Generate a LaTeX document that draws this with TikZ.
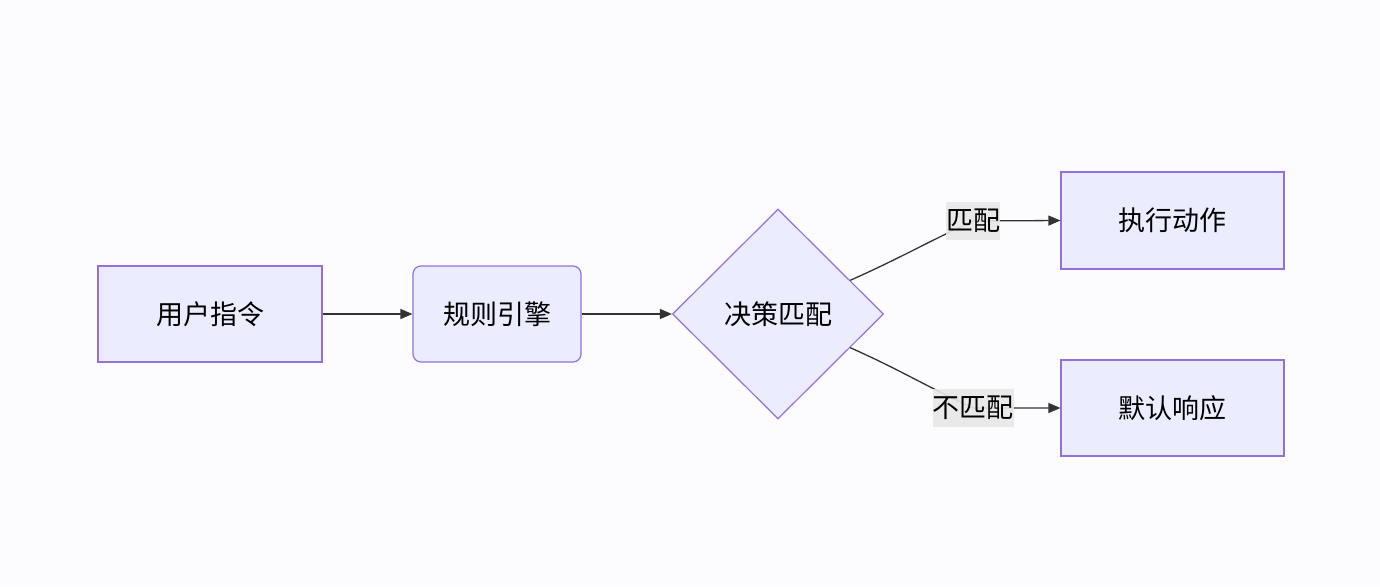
\documentclass[tikz,border=0pt]{standalone}
\usepackage{fontspec}
\newfontfamily\cjk{Noto Sans CJK SC}
\usetikzlibrary{shapes.geometric}
\usetikzlibrary{arrows.meta}
\definecolor{nodefill}{HTML}{ECECFF}
\definecolor{nodeline}{HTML}{9370DB}
\definecolor{edgeline}{HTML}{333333}
\definecolor{lblfill}{HTML}{E8E8E8}
\definecolor{bgcol}{HTML}{FCFCFE}

\tikzset{
  box/.style={draw=nodeline,fill=nodefill,line width=1.2pt,minimum width=224pt,minimum height=96pt,inner sep=0pt,font=\cjk\fontsize{27}{32}\selectfont},
  roundbox/.style={box,rounded corners=8pt,minimum width=168pt},
  decision/.style={diamond,draw=nodeline,fill=nodefill,line width=1.2pt,minimum width=211pt,minimum height=210pt,inner sep=0pt,font=\cjk\fontsize{27}{32}\selectfont},
  flow/.style={draw=edgeline,line width=1.3pt,-{Triangle[length=12pt,width=10pt]}},
  lbl/.style={fill=lblfill,fill opacity=0.9,text opacity=1,inner sep=0pt,minimum height=38pt,font=\cjk\fontsize{27}{32}\selectfont}
}

\begin{document}
\begin{tikzpicture}[x=1pt,y=-1pt]
 \fill[bgcol] (0,0) rectangle (1380,586);
 \useasboundingbox (0,0) rectangle (1380,586);

 % main row
 \node[box] (cmd) at (210,314) {用户指令};
 \node[roundbox] (rule) at (497,314) {规则引擎};
 \node[decision] (dec) at (778,314) {决策匹配};

 % results
 \node[box,minimum width=223pt,minimum height=97pt] (exec) at (1172.5,220.5) {执行动作};
 \node[box,minimum width=223pt] (dflt) at (1172.5,408) {默认响应};

 \draw[flow] (cmd) -- (rule);
 \draw[flow] (rule) -- (dec);

 % branches
 \coordinate (yes) at (973,221);
 \coordinate (no) at (973,408);
 \draw[flow] (dec.25) to[out=24,in=205] (yes) -- (exec.west);
 \draw[flow] (dec.-25) to[out=-24,in=155] (no) -- (dflt.west);

 \node[lbl] (yesLabel) at (yes) {匹配};
 \node[lbl] (noLabel) at (no) {不匹配};
\end{tikzpicture}
\end{document}
